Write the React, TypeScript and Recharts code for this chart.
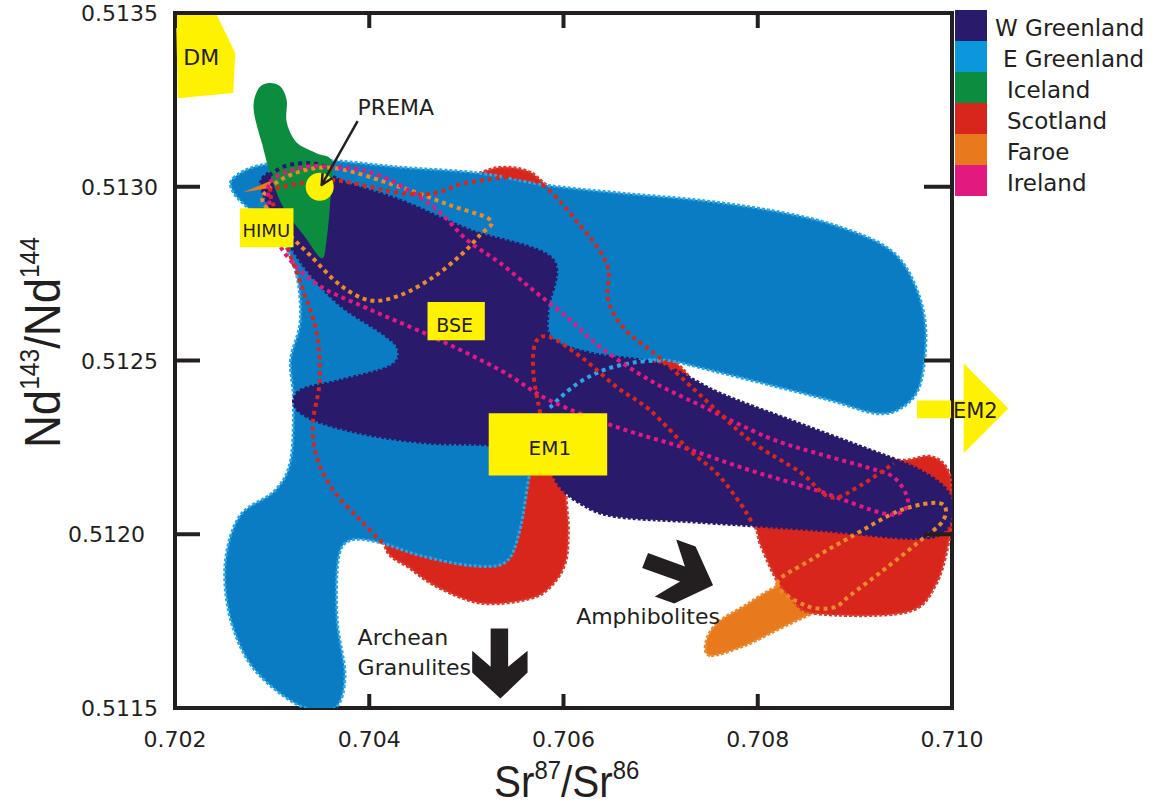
import React from 'react';
import { ScatterChart, Scatter, XAxis, YAxis } from 'recharts';

type Pt = [number, number];

// axis ticks
const X_TICKS = [0.702, 0.704, 0.706, 0.708, 0.71];
const Y_TICKS = [0.5115, 0.512, 0.5125, 0.513, 0.5135];

// filled fields (Sr87/Sr86, Nd143/Nd144)
const E_GREENLAND: Pt[] = [
  [0.7026, 0.513025], [0.70288, 0.513062], [0.70349, 0.513077], [0.70432, 0.513056], [0.70514, 0.513039],
  [0.70581, 0.513005], [0.70658, 0.512982], [0.70741, 0.512961], [0.70823, 0.512927], [0.70885, 0.512884],
  [0.70937, 0.512817], [0.70962, 0.512717], [0.70973, 0.512587], [0.70967, 0.512429], [0.70947, 0.512362],
  [0.70921, 0.512348], [0.70875, 0.512385], [0.70813, 0.512429], [0.70751, 0.512472], [0.70705, 0.512501],
  [0.70669, 0.512495], [0.70638, 0.512466], [0.70607, 0.512408], [0.70581, 0.512328], [0.70566, 0.512184],
  [0.70555, 0.512011], [0.7054, 0.511919], [0.70504, 0.51191], [0.70452, 0.511939], [0.70411, 0.511976],
  [0.7038, 0.511982], [0.70368, 0.511925], [0.70367, 0.511752], [0.70375, 0.511593], [0.70365, 0.5115],
  [0.70334, 0.5115], [0.70298, 0.511565], [0.70272, 0.511651], [0.70255, 0.511781], [0.70252, 0.511925],
  [0.70267, 0.512054], [0.70303, 0.512126], [0.70319, 0.512213], [0.70322, 0.512385], [0.70319, 0.512501],
  [0.70329, 0.512616], [0.70324, 0.51276], [0.70303, 0.512875], [0.70272, 0.512947], [0.70259, 0.51299],
];

const SCOTLAND: Pt[] = [
  [0.70488, 0.512996], [0.70509, 0.513033], [0.70535, 0.513056], [0.70563, 0.513045], [0.70581, 0.513008],
  [0.70638, 0.512875], [0.70679, 0.512587], [0.70689, 0.512524], [0.70708, 0.512509], [0.70726, 0.512466],
  [0.70738, 0.512414], [0.70803, 0.512313], [0.70895, 0.512236], [0.70947, 0.512213], [0.70978, 0.512224],
  [0.70996, 0.512184], [0.71, 0.512097], [0.70998, 0.511997], [0.70983, 0.511853], [0.70952, 0.511775],
  [0.70859, 0.511772], [0.70834, 0.511818], [0.70818, 0.511876], [0.70803, 0.511968], [0.70792, 0.512034],
  [0.70741, 0.512083], [0.70638, 0.512097], [0.70605, 0.512149], [0.70605, 0.512011], [0.70602, 0.511919],
  [0.70588, 0.511853], [0.70566, 0.511815], [0.70517, 0.511801], [0.70473, 0.511844], [0.70442, 0.511902],
  [0.70416, 0.511968], [0.70422, 0.512155], [0.70452, 0.512385], [0.70473, 0.512817],
];

const FAROE: Pt[] = [
  [0.70751, 0.511651], [0.70747, 0.511694], [0.70759, 0.511746], [0.70787, 0.511795], [0.70823, 0.511853],
  [0.70864, 0.511873], [0.7089, 0.511815], [0.70856, 0.511772], [0.70823, 0.511729], [0.70787, 0.51168],
];

const FAROE_TIP: Pt[] = [[0.7027, 0.512984], [0.703, 0.513019], [0.70296, 0.512996]];

const W_GREENLAND: Pt[] = [
  [0.7029, 0.513025], [0.70318, 0.513062], [0.70351, 0.513065], [0.7037, 0.513019], [0.70432, 0.512961],
  [0.70504, 0.512875], [0.70588, 0.512794], [0.70584, 0.512645], [0.70588, 0.512564], [0.70628, 0.512521],
  [0.707, 0.512489], [0.70761, 0.512406], [0.70834, 0.512328], [0.70906, 0.512253], [0.70967, 0.512184],
  [0.70998, 0.512112], [0.70995, 0.512017], [0.70962, 0.511988], [0.70864, 0.512011], [0.70741, 0.512034],
  [0.70653, 0.512051], [0.70617, 0.512089], [0.70595, 0.512141], [0.70576, 0.512227], [0.70525, 0.512256],
  [0.70463, 0.512262], [0.70401, 0.512285], [0.70349, 0.512322], [0.70324, 0.512365], [0.70329, 0.512414],
  [0.7037, 0.512443], [0.70421, 0.512483], [0.7043, 0.512529], [0.70416, 0.512573], [0.7037, 0.512659],
  [0.70334, 0.512766], [0.7031, 0.512875], [0.70293, 0.512967],
];

const ICELAND: Pt[] = [
  [0.70295, 0.513298], [0.70308, 0.51329], [0.70315, 0.513249], [0.70315, 0.513186], [0.70325, 0.513128],
  [0.70345, 0.513097], [0.70362, 0.513071], [0.7036, 0.512961], [0.70356, 0.512846], [0.70351, 0.512794],
  [0.70334, 0.512855], [0.70313, 0.512933], [0.703, 0.513019], [0.7029, 0.51312], [0.70281, 0.513221],
  [0.70285, 0.513278],
];

// dotted field outlines
const SCOTLAND_EDGE_A: Pt[] = [
  [0.70296, 0.51299], [0.70329, 0.51301], [0.70365, 0.513019], [0.70432, 0.512982], [0.70468, 0.512982],
  [0.70504, 0.513013], [0.70569, 0.513019], [0.70617, 0.512889], [0.70645, 0.512774], [0.70646, 0.512673],
  [0.70664, 0.512587], [0.707, 0.512506], [0.70741, 0.5124], [0.70792, 0.51227], [0.70844, 0.512178],
  [0.70875, 0.512106], [0.70906, 0.512141], [0.7094, 0.512204],
];
const SCOTLAND_EDGE_B: Pt[] = [
  [0.70298, 0.512976], [0.70313, 0.512846], [0.70332, 0.512702], [0.70346, 0.512578], [0.70349, 0.512443],
  [0.70342, 0.512319], [0.70346, 0.512221], [0.70363, 0.512126], [0.70391, 0.51204], [0.70416, 0.511968],
];
const SCOTLAND_EDGE_C: Pt[] = [
  [0.70576, 0.512348], [0.70569, 0.512463], [0.70571, 0.51255], [0.70586, 0.512567], [0.7062, 0.512506],
  [0.70655, 0.512423], [0.70689, 0.512357], [0.7073, 0.512241], [0.70758, 0.512175], [0.70782, 0.512089],
  [0.70794, 0.512034],
];
const IRELAND_EDGE: Pt[] = [
  [0.70298, 0.513013], [0.70332, 0.513056], [0.70367, 0.513056], [0.70401, 0.513042], [0.70435, 0.512999],
  [0.7047, 0.512933], [0.70501, 0.512846], [0.70535, 0.51278], [0.70569, 0.512702], [0.70604, 0.512624],
  [0.70638, 0.512538], [0.70689, 0.512443], [0.70741, 0.512371], [0.7081, 0.512279], [0.70861, 0.512233],
  [0.70913, 0.512192], [0.7094, 0.512164], [0.70954, 0.512106], [0.7095, 0.512069], [0.70929, 0.51206],
  [0.70861, 0.512126], [0.70792, 0.512184], [0.70723, 0.51225], [0.70655, 0.512308], [0.70586, 0.512385],
  [0.70535, 0.512472], [0.70466, 0.512567], [0.70398, 0.51265], [0.70346, 0.51272], [0.70311, 0.512817],
  [0.703, 0.512918],
];
const FAROE_EDGE_A: Pt[] = [
  [0.70291, 0.512976], [0.70318, 0.513033], [0.70363, 0.513054], [0.70432, 0.512999], [0.70483, 0.512947],
  [0.70525, 0.512904], [0.70514, 0.512861], [0.70494, 0.512803], [0.70466, 0.51274], [0.70432, 0.512688],
  [0.70401, 0.512673], [0.7037, 0.512717], [0.70339, 0.512803], [0.70313, 0.512875], [0.70296, 0.512933],
];
const FAROE_EDGE_B: Pt[] = [
  [0.7082, 0.511858], [0.70854, 0.511925], [0.70895, 0.511991], [0.70947, 0.512069], [0.70988, 0.512089],
  [0.70991, 0.51204], [0.70964, 0.511974], [0.70929, 0.511896], [0.70895, 0.511824], [0.70878, 0.511789],
  [0.70849, 0.511795],
];
const E_GREENLAND_EDGE: Pt[] = [
  [0.70586, 0.512365], [0.70612, 0.512429], [0.70641, 0.512472], [0.70674, 0.512495], [0.70705, 0.512501],
];
const W_GREENLAND_EDGE: Pt[] = [[0.7029, 0.513019], [0.70313, 0.513059], [0.70339, 0.513068], [0.7036, 0.513054]];

// end-members and annotations
const DM_FIELD: Pt[] = [[0.70201, 0.513494], [0.70243, 0.513494], [0.70262, 0.513385], [0.7026, 0.51327], [0.70203, 0.513255]];
const HIMU_FIELD: Pt[] = [[0.70267, 0.512938], [0.70322, 0.512938], [0.70322, 0.512826], [0.70267, 0.512826]];
const BSE_FIELD: Pt[] = [[0.7046, 0.512668], [0.70519, 0.512668], [0.70519, 0.512558], [0.7046, 0.512558]];
const EM1_FIELD: Pt[] = [[0.70523, 0.512348], [0.70645, 0.512348], [0.70645, 0.512169], [0.70523, 0.512169]];
const EM2_SHAFT: Pt[] = [[0.70964, 0.512385], [0.70999, 0.512385], [0.70999, 0.512334], [0.70964, 0.512334]];
const EM2_HEAD: Pt[] = [
  [0.71002, 0.512385], [0.71012, 0.512385], [0.71012, 0.512492], [0.71058, 0.512362], [0.71012, 0.512233],
  [0.71012, 0.512334], [0.71002, 0.512334],
];
const PREMA_POINT: Pt[] = [[0.70349, 0.513]];
const PREMA_POINTER: Pt[] = [[0.70388, 0.513189], [0.70351, 0.513005]];
const PREMA_HEAD: Pt[] = [[0.70352, 0.513039], [0.70351, 0.513005], [0.70362, 0.513025]];
const GRANULITE_ARROW: Pt[] = [
  [0.70525, 0.511729], [0.70543, 0.511729], [0.70543, 0.511619], [0.70563, 0.511665], [0.70563, 0.511602],
  [0.70535, 0.511527], [0.70506, 0.511602], [0.70506, 0.511665], [0.70525, 0.511619],
];
const AMPHIBOLITE_ARROW: Pt[] = [
  [0.70687, 0.511946], [0.70725, 0.511907], [0.70716, 0.511985], [0.70736, 0.511965], [0.70754, 0.511853],
  [0.70714, 0.511801], [0.70694, 0.511821], [0.7072, 0.511864], [0.70681, 0.511903],
];

// text labels: [text, x, y]
const CENTER_LABELS: [string, number, number][] = [
  ['DM', 0.70227, 0.51335],
  ['HIMU', 0.70294, 0.512855],
  ['BSE', 0.70488, 0.512581],
  ['EM1', 0.70586, 0.512227],
  ['EM2', 0.71024, 0.512334],
];
const START_LABELS: [string, number, number][] = [
  ['PREMA', 0.70388, 0.513206],
  ['Archean', 0.70388, 0.51168],
  ['Granulites', 0.70388, 0.511596],
  ['Amphibolites', 0.70613, 0.511743],
];
const LABEL_SIZE: Record<string, number> = {
  DM: 22, HIMU: 18, BSE: 19, EM1: 20, EM2: 21, PREMA: 22, Archean: 22, Granulites: 22, Amphibolites: 22,
};

const LEGEND_NAMES = ['W Greenland', 'E Greenland', 'Iceland', 'Scotland', 'Faroe', 'Ireland'];
const LEGEND_COLORS = ['#2a1a6c', '#0a97dc', '#0b8c3f', '#d9261c', '#e8791c', '#e2197f'];
const LEGEND_INDENT = [8, 16, 20, 20, 20, 20];

const INK = '#231f20';
const FONT = "'DejaVu Sans', 'Liberation Sans', sans-serif";
const YELLOW = '#fff200';

type Look = { fill?: string; stroke?: string; width?: number; dash?: string; closed?: boolean; smooth?: boolean };

function toRows(pts: Pt[]) {
  return pts.map(([x, y]) => ({ x, y }));
}

function curvePath(pts: { x: number; y: number }[], closed: boolean, smooth: boolean) {
  const n = pts.length;
  if (!smooth) {
    return pts.map((p, i) => `${i ? 'L' : 'M'}${p.x},${p.y}`).join('') + (closed ? 'Z' : '');
  }
  const at = (i: number) => (closed ? pts[(i + n) % n] : pts[Math.max(0, Math.min(n - 1, i))]);
  let d = `M${pts[0].x},${pts[0].y}`;
  const segs = closed ? n : n - 1;
  for (let i = 0; i < segs; i++) {
    const p0 = at(i - 1), p1 = at(i), p2 = at(i + 1), p3 = at(i + 2);
    const c1x = p1.x + (p2.x - p0.x) / 6, c1y = p1.y + (p2.y - p0.y) / 6;
    const c2x = p2.x - (p3.x - p1.x) / 6, c2y = p2.y - (p3.y - p1.y) / 6;
    d += `C${c1x},${c1y} ${c2x},${c2y} ${p2.x},${p2.y}`;
  }
  return d + (closed ? 'Z' : '');
}

function Outline(props: any) {
  const { points, look } = props;
  if (!points || points.length < 2) return null;
  return (
    <path
      d={curvePath(points, !!look.closed, !!look.smooth)}
      fill={look.fill || 'none'}
      stroke={look.stroke || 'none'}
      strokeWidth={look.width || 0}
      strokeDasharray={look.dash}
      strokeLinejoin="round"
    />
  );
}

const noMark = () => null;

function shape(key: string, pts: Pt[], look: Look, className?: string) {
  return (
    <Scatter
      key={key}
      data={toRows(pts)}
      shape={noMark}
      line={<Outline look={look} />}
      lineType="joint"
      className={className}
      isAnimationActive={false}
    />
  );
}

const field = (fill: string, stroke: string): Look => ({ fill, stroke, width: 3, dash: '3 2', closed: true, smooth: true });
const dotted = (stroke: string, closed: boolean): Look => ({ stroke, width: 4, dash: '4 4', closed, smooth: true });
const block = (fill: string): Look => ({ fill, closed: true, smooth: false });

const BottomTick = (p: any) => (
  <g>
    <line x1={p.x} y1={p.y} x2={p.x} y2={p.y - 14} stroke={INK} strokeWidth={4} />
    <text x={p.x} y={p.y + 39} textAnchor="middle" fontFamily={FONT} fontSize={22} fill={INK}>
      {p.payload.value.toFixed(3)}
    </text>
  </g>
);
const TopTick = (p: any) => <line x1={p.x} y1={p.y} x2={p.x} y2={p.y + 15} stroke={INK} strokeWidth={4} />;
const LeftTick = (p: any) => (
  <g>
    <line x1={p.x} y1={p.y} x2={p.x + 25} y2={p.y} stroke={INK} strokeWidth={4} />
    <text
      x={p.x - 17 - (p.payload.value === 0.512 ? 13 : 0)}
      y={p.y}
      dy={8}
      textAnchor="end"
      fontFamily={FONT}
      fontSize={22}
      fill={INK}
    >
      {p.payload.value.toFixed(4)}
    </text>
  </g>
);
const RightTick = (p: any) => <line x1={p.x} y1={p.y} x2={p.x - 28} y2={p.y} stroke={INK} strokeWidth={4} />;

const axisLine = { stroke: INK, strokeWidth: 4, strokeLinecap: 'square' as const };

export default function App() {
  return (
    <div style={{ position: 'absolute', left: 0, top: 0, width: 1155, height: 805, background: '#fff' }}>
      <style>{'.noclip{clip-path:none !important}'}</style>
      <ScatterChart width={1155} height={805} margin={{ top: 12, right: 202, bottom: 96, left: 174 }}>
        <XAxis
          dataKey="x"
          type="number"
          domain={[0.702, 0.71]}
          ticks={X_TICKS}
          interval={0}
          allowDataOverflow
          height={1}
          tickSize={0}
          tickMargin={0}
          tickLine={false}
          axisLine={axisLine}
          tick={<BottomTick />}
        />
        <XAxis
          xAxisId="top"
          orientation="top"
          dataKey="x"
          type="number"
          domain={[0.702, 0.71]}
          ticks={X_TICKS}
          interval={0}
          allowDataOverflow
          height={1}
          tickSize={0}
          tickMargin={0}
          tickLine={false}
          axisLine={axisLine}
          tick={<TopTick />}
        />
        <YAxis
          dataKey="y"
          type="number"
          domain={[0.5115, 0.5135]}
          ticks={Y_TICKS}
          interval={0}
          allowDataOverflow
          width={1}
          tickSize={0}
          tickMargin={0}
          tickLine={false}
          axisLine={axisLine}
          tick={<LeftTick />}
        />
        <YAxis
          yAxisId="right"
          orientation="right"
          dataKey="y"
          type="number"
          domain={[0.5115, 0.5135]}
          ticks={Y_TICKS}
          interval={0}
          allowDataOverflow
          width={1}
          tickSize={0}
          tickMargin={0}
          tickLine={false}
          axisLine={axisLine}
          tick={<RightTick />}
        />

        {shape('faroe', FAROE, field('#e8791c', '#ec8a30'))}
        {shape('scotland', SCOTLAND, field('#d9261c', '#dd3a2c'))}
        {shape('egreen', E_GREENLAND, field('#0a7cc3', '#2aa6e8'))}
        {shape('wgreen', W_GREENLAND, field('#2a1a6c', '#2a1a6c'))}
        {shape('iceland', ICELAND, { fill: '#0b8c3f', closed: true, smooth: true })}
        {shape('faroetip', FAROE_TIP, block('#e8791c'))}

        {shape('wedge', W_GREENLAND_EDGE, dotted('#2a1a6c', false))}
        {shape('eedge', E_GREENLAND_EDGE, dotted('#2aa6e8', false))}
        {shape('fedgeA', FAROE_EDGE_A, dotted('#ea8a2a', true))}
        {shape('fedgeB', FAROE_EDGE_B, dotted('#ea8a2a', true))}
        {shape('iedge', IRELAND_EDGE, dotted('#e2197f', true))}
        {shape('sedgeA', SCOTLAND_EDGE_A, dotted('#d9261c', false))}
        {shape('sedgeB', SCOTLAND_EDGE_B, dotted('#d9261c', false))}
        {shape('sedgeC', SCOTLAND_EDGE_C, dotted('#d9261c', false))}

        {shape('dm', DM_FIELD, block(YELLOW))}
        {shape('himu', HIMU_FIELD, block(YELLOW))}
        {shape('bse', BSE_FIELD, block(YELLOW))}
        {shape('em1', EM1_FIELD, block(YELLOW))}
        {shape('em2shaft', EM2_SHAFT, block(YELLOW))}
        {shape('em2head', EM2_HEAD, block(YELLOW), 'noclip')}
        {shape('gran', GRANULITE_ARROW, block(INK))}
        {shape('amph', AMPHIBOLITE_ARROW, block(INK))}
        <Scatter
          data={toRows(PREMA_POINT)}
          shape={(p: any) => <circle cx={p.cx} cy={p.cy} r={14} fill={YELLOW} />}
          isAnimationActive={false}
        />
        {shape('pointer', PREMA_POINTER, { stroke: INK, width: 2.5 })}
        {shape('head', PREMA_HEAD, { stroke: INK, width: 2.5 })}

        {CENTER_LABELS.map(([text, x, y]) => (
          <Scatter
            key={text}
            data={[{ x, y }]}
            className="noclip"
            isAnimationActive={false}
            shape={(p: any) => (
              <text x={p.cx} y={p.cy} textAnchor="middle" fontFamily={FONT} fontSize={LABEL_SIZE[text]} fill={INK}>
                {text}
              </text>
            )}
          />
        ))}
        {START_LABELS.map(([text, x, y]) => (
          <Scatter
            key={text}
            data={[{ x, y }]}
            isAnimationActive={false}
            shape={(p: any) => (
              <text x={p.cx} y={p.cy} textAnchor="start" fontFamily={FONT} fontSize={LABEL_SIZE[text]} fill={INK}>
                {text}
              </text>
            )}
          />
        ))}
      </ScatterChart>

      <svg width={1155} height={805} style={{ position: 'absolute', left: 0, top: 0, pointerEvents: 'none' }}>
        <g transform="translate(494,797) scale(0.92,1)">
          <text fontFamily="'Liberation Sans', sans-serif" fontSize={44} fill={INK}>
            Sr<tspan fontSize={26} dy={-18}>87</tspan>
            <tspan dy={18}>/Sr</tspan>
            <tspan fontSize={26} dy={-18}>86</tspan>
          </text>
        </g>
        <g transform="translate(60,448) rotate(-90) scale(0.91,1)">
          <text fontFamily="'Liberation Sans', sans-serif" fontSize={50} fill={INK}>
            Nd<tspan fontSize={27} dy={-21}>143</tspan>
            <tspan dy={21}>/Nd</tspan>
            <tspan fontSize={27} dy={-21}>144</tspan>
          </text>
        </g>
      </svg>

      <div style={{ position: 'absolute', left: 955, top: 10 }}>
        {LEGEND_NAMES.map((name, i) => (
          <div key={name} style={{ display: 'flex', alignItems: 'center', height: 31 }}>
            <div style={{ width: 32, height: 31, background: LEGEND_COLORS[i] }} />
            <span
              style={{
                marginLeft: LEGEND_INDENT[i],
                fontFamily: FONT,
                fontSize: 23,
                color: INK,
                whiteSpace: 'nowrap',
                position: 'relative',
                top: 2,
              }}
            >
              {name}
            </span>
          </div>
        ))}
      </div>
    </div>
  );
}
